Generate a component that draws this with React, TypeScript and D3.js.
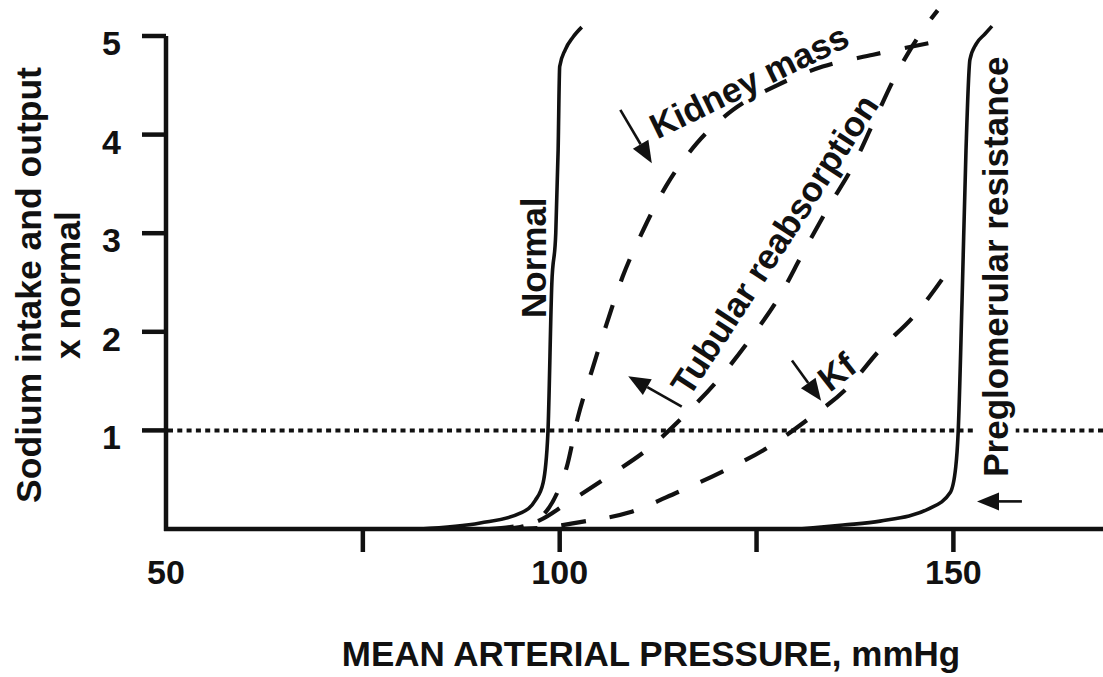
import React, { useEffect, useRef } from 'react';
import * as d3 from 'd3';

// curve values: mean arterial pressure (mmHg) vs sodium output (x normal)
const normalPressure = [82.3, 89.9, 95.0, 96.9, 97.9, 98.5, 99.0, 99.5, 99.8, 100.0, 100.7, 101.7, 102.8];
const normalOutput = [0.0, 0.06, 0.16, 0.29, 0.47, 0.97, 2.49, 3.0, 3.84, 4.69, 4.86, 4.99, 5.09];

const kidneyPressure = [92.4, 95.0, 98.1, 99.7, 100.9, 102.3, 104.1, 106.0, 108.0, 110.6, 113.6, 117.4, 122.0, 127.6, 133.4, 139.8, 148.9];
const kidneyOutput = [0.0, 0.02, 0.16, 0.37, 0.63, 1.13, 1.61, 2.09, 2.56, 3.03, 3.49, 3.91, 4.25, 4.5, 4.69, 4.81, 4.96];

const tubularPressure = [91.0, 93.7, 97.5, 100.9, 106.1, 111.5, 116.2, 120.4, 124.4, 128.0, 130.9, 134.1, 137.3, 140.0, 142.8, 144.5, 146.3, 148.0];
const tubularOutput = [0.0, 0.02, 0.09, 0.26, 0.53, 0.83, 1.18, 1.54, 1.95, 2.37, 2.8, 3.26, 3.69, 4.15, 4.62, 4.86, 5.08, 5.26];

const kfPressure = [94.0, 97.5, 102.6, 108.9, 114.9, 120.6, 126.3, 131.5, 136.5, 140.7, 145.1, 149.6];
const kfOutput = [0.0, 0.01, 0.07, 0.17, 0.37, 0.58, 0.82, 1.11, 1.43, 1.82, 2.17, 2.65];

const preglomPressure = [130.5, 136.0, 140.7, 147.0, 149.6, 150.3, 150.6, 151.1, 151.6, 152.1, 152.9, 154.0, 154.9];
const preglomOutput = [0.0, 0.04, 0.08, 0.21, 0.37, 0.63, 0.97, 2.32, 3.84, 4.76, 4.92, 5.02, 5.1];

const xTicks = [75, 100, 125, 150];
const xTickLabels = [50, 100, 150];
const yTicks = [1, 2, 3, 4, 5];

// curve labels: text, anchor pressure, anchor output, rotation
const labelText = ['Normal', 'Kidney mass', 'Tubular reabsorption', 'Kf', 'Preglomerular resistance'];
const labelPressure = [98.3, 112.4, 116.5, 134.3, 156.9];
const labelOutput = [2.14, 3.95, 1.33, 1.38, 0.53];
const labelAngle = [-90, -26, -57, -38, -90];

// arrows: tail -> tip
const arrowTailP = [107.7, 115.5, 129.5, 158.7];
const arrowTailV = [4.25, 1.24, 1.71, 0.28];
const arrowTipP = [111.7, 108.7, 133.2, 153.0];
const arrowTipV = [3.71, 1.55, 1.30, 0.28];

const W = 1103;
const H = 677;
const FONT = '"Liberation Sans", Arial, Helvetica, sans-serif';

const App: React.FC = () => {
  const svgRef = useRef<SVGSVGElement | null>(null);

  useEffect(() => {
    if (!svgRef.current) return;
    const svg = d3.select(svgRef.current);
    svg.selectAll('*').remove();

    const x = d3.scaleLinear().domain([50, 169]).range([166, 1103]);
    const y = d3.scaleLinear().domain([0, 5]).range([529, 36]);

    const line = d3.line<[number, number]>()
      .x(d => x(d[0]))
      .y(d => y(d[1]))
      .curve(d3.curveMonotoneX);

    const zip = (a: number[], b: number[]) => a.map((v, i) => [v, b[i]] as [number, number]);

    // dotted normal-intake line
    svg.append('line')
      .attr('x1', x(50) + 2).attr('x2', W)
      .attr('y1', y(1)).attr('y2', y(1))
      .attr('stroke', '#111').attr('stroke-width', 4)
      .attr('stroke-dasharray', '5 4.3');

    const curves = [
      { d: zip(normalPressure, normalOutput), dash: null },
      { d: zip(preglomPressure, preglomOutput), dash: null },
      { d: zip(kidneyPressure, kidneyOutput), dash: '24 25' },
      { d: zip(tubularPressure, tubularOutput), dash: '25 25' },
      { d: zip(kfPressure, kfOutput), dash: '25 24' },
    ];

    curves.forEach(c => {
      svg.append('path')
        .attr('d', line(c.d) || '')
        .attr('fill', 'none')
        .attr('stroke', '#111')
        .attr('stroke-width', c.dash ? 4.2 : 3.6)
        .attr('stroke-dasharray', c.dash)
        .attr('stroke-linecap', 'butt');
    });

    // white patch where the dotted line meets the preglomerular label
    svg.append('rect')
      .attr('x', x(labelPressure[4]) - 34).attr('y', y(1) - 8)
      .attr('width', 42).attr('height', 16)
      .attr('fill', 'white');

    // axes
    const axisG = svg.append('g').attr('stroke', '#111').attr('stroke-width', 4.5);
    axisG.append('line').attr('x1', x(50)).attr('x2', x(50)).attr('y1', y(5)).attr('y2', y(0) + 2);
    axisG.append('line').attr('x1', x(50) - 2).attr('x2', W).attr('y1', y(0)).attr('y2', y(0));
    yTicks.forEach(t => {
      axisG.append('line').attr('x1', x(50) - 24).attr('x2', x(50)).attr('y1', y(t)).attr('y2', y(t));
    });
    xTicks.forEach(t => {
      axisG.append('line').attr('x1', x(t)).attr('x2', x(t)).attr('y1', y(0)).attr('y2', y(0) + 23);
    });

    const textG = svg.append('g')
      .attr('font-family', FONT)
      .attr('font-weight', 'bold')
      .attr('font-size', 34)
      .attr('fill', '#111');

    yTicks.forEach(t => {
      textG.append('text')
        .attr('x', 121).attr('y', y(t) + 19)
        .attr('text-anchor', 'end')
        .text(t);
    });
    xTickLabels.forEach(t => {
      textG.append('text')
        .attr('x', x(t)).attr('y', 584)
        .attr('text-anchor', 'middle')
        .text(t);
    });

    textG.append('text')
      .attr('x', 651).attr('y', 666)
      .attr('text-anchor', 'middle')
      .attr('font-size', 35)
      .text('MEAN ARTERIAL PRESSURE, mmHg');

    const yTitle = textG.append('text')
      .attr('transform', 'translate(0,285) rotate(-90)')
      .attr('text-anchor', 'middle')
      .attr('font-size', 35.5);
    yTitle.append('tspan').attr('x', 0).attr('y', 41).text('Sodium intake and output');
    yTitle.append('tspan').attr('x', 0).attr('y', 80).text('x normal');

    labelText.forEach((t, i) => {
      textG.append('text')
        .attr('transform', `translate(${x(labelPressure[i])},${y(labelOutput[i])}) rotate(${labelAngle[i]})`)
        .attr('font-size', 35)
        .text(t);
    });

    // arrows
    arrowTailP.forEach((_, i) => {
      const x0 = x(arrowTailP[i]);
      const y0 = y(arrowTailV[i]);
      const x1 = x(arrowTipP[i]);
      const y1 = y(arrowTipV[i]);
      const ang = Math.atan2(y1 - y0, x1 - x0);
      const L = 22;
      const hw = 9;
      const bx = x1 - L * Math.cos(ang);
      const by = y1 - L * Math.sin(ang);
      svg.append('line')
        .attr('x1', x0).attr('y1', y0).attr('x2', bx).attr('y2', by)
        .attr('stroke', '#111').attr('stroke-width', 2.6);
      const pts: [number, number][] = [
        [x1, y1],
        [bx + hw * Math.sin(ang), by - hw * Math.cos(ang)],
        [bx - hw * Math.sin(ang), by + hw * Math.cos(ang)],
      ];
      svg.append('path')
        .attr('d', 'M' + pts.map(p => p.join(',')).join('L') + 'Z')
        .attr('fill', '#111');
    });
  }, []);

  return (
    <svg
      ref={svgRef}
      width={W}
      height={H}
      style={{ position: 'absolute', left: 0, top: 0, background: 'white', display: 'block' }}
    />
  );
};

export default App;
